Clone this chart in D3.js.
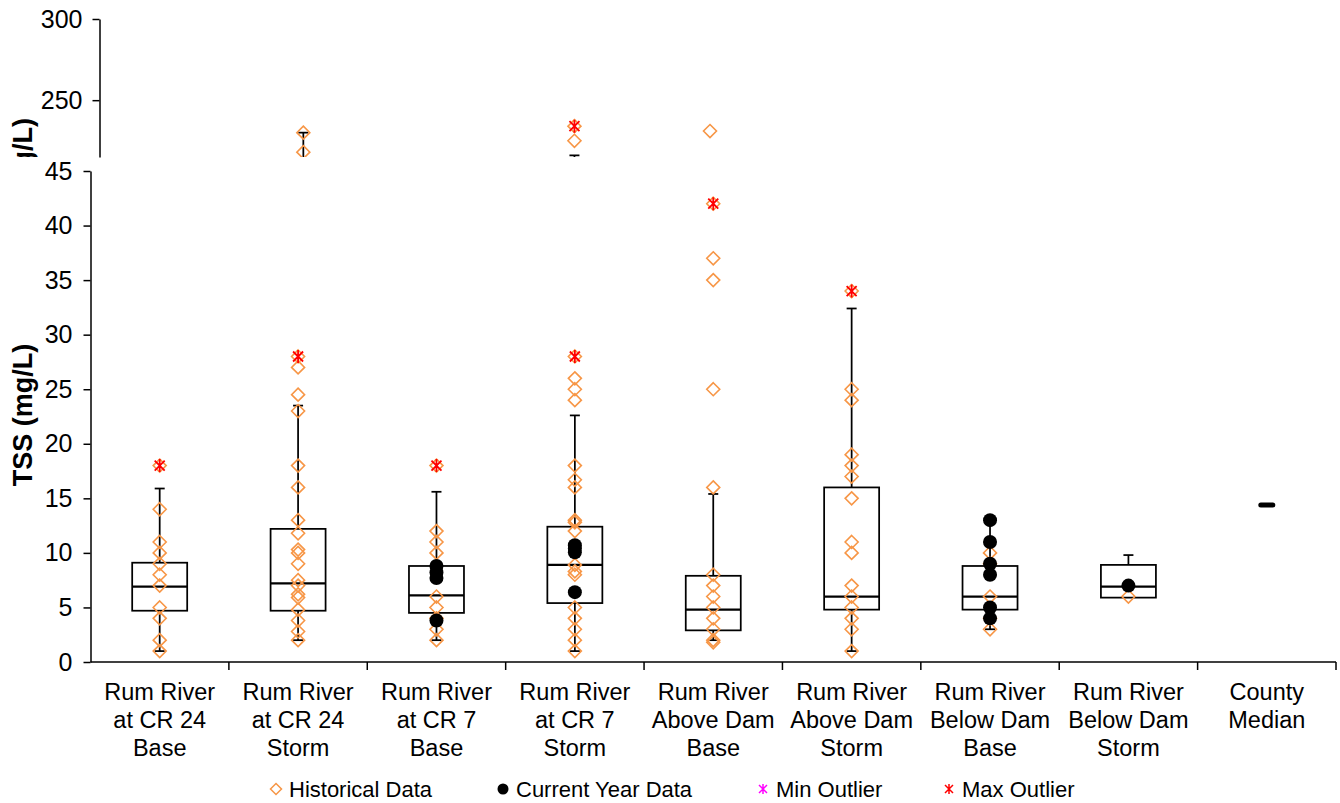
<!DOCTYPE html>
<html>
<head>
<meta charset="utf-8">
<script src="https://cdn.jsdelivr.net/npm/d3@7.9.0/dist/d3.min.js"></script>
<style>
  body { margin: 0; background: #fff; }
  svg text { font-family: "Liberation Sans", Arial, sans-serif; fill: #000; }
</style>
</head>
<body>
<svg id="chart" width="1340" height="803"></svg>
<script>
// categories and label lines
const categories = ["CR24 Base", "CR24 Storm", "CR7 Base", "CR7 Storm", "Above Dam Base",
                    "Above Dam Storm", "Below Dam Base", "Below Dam Storm", "County Median"];
const labelLines = [
  ["Rum River", "at CR 24", "Base"], ["Rum River", "at CR 24", "Storm"],
  ["Rum River", "at CR 7", "Base"], ["Rum River", "at CR 7", "Storm"],
  ["Rum River", "Above Dam", "Base"], ["Rum River", "Above Dam", "Storm"],
  ["Rum River", "Below Dam", "Base"], ["Rum River", "Below Dam", "Storm"],
  ["County", "Median"]
];

// box stats (lower panel, mg/L)
const boxQ1 = [4.7, 4.7, 4.5, 5.4, 2.9, 4.8, 4.8, 5.9, null];
const boxMedian = [6.9, 7.2, 6.1, 8.9, 4.8, 6.0, 6.0, 6.9, null];
const boxQ3 = [9.1, 12.2, 8.8, 12.4, 7.9, 16.0, 8.8, 8.9, null];
const whiskerLow = [1, 2, 2, 1, 2, 1, 3, 6, null];
const whiskerHigh = [15.9, 23.5, 15.6, 22.6, 15.4, 32.4, 13, 9.8, null];

const historical = [
  [18, 14, 11, 10, 9, 8, 7, 5, 4, 2, 1],
  [28, 27, 24.5, 23, 18, 16, 13, 11.8, 10.3, 10, 9, 7.5, 7, 6.2, 5.9, 4.8, 3.8, 2.8, 2],
  [18, 12, 11, 10, 6, 5, 4, 3, 2],
  [28, 26, 25, 24, 18, 16.7, 16, 13, 12.8, 12, 8.9, 8.3, 8, 5, 4, 3, 2, 1],
  [42, 37, 35, 25, 16, 8, 7, 6, 5, 4, 3, 2, 1.8],
  [34, 25, 24, 19, 18, 17, 15, 11, 10, 7, 6, 5, 4, 3, 1],
  [10, 9, 6, 4, 3],
  [6],
  []
];
const current = [[], [], [8.8, 8.2, 7.7, 3.8], [10.7, 10.4, 10.05, 6.4], [], [],
                 [13, 11, 9, 8, 5, 4], [7], []];
const maxOutliers = [18, 28, 18, 28, 42, 34, null, null, null];
const countyMedian = 14.4;

// upper (broken) panel
const upperHistorical = [[], [230, 218], [], [234, 225], [231], [], [], [], []];
const upperMaxOutliers = [null, null, null, 234, null, null, null, null, null];
const upperWhiskerHigh = [null, 230, null, 216, null, null, null, null, null];

const lowerTicks = [0, 5, 10, 15, 20, 25, 30, 35, 40, 45];
const upperTicks = [250, 300];

const legendItems = [
  { label: "Historical Data", type: "diamond", x: 276 },
  { label: "Current Year Data", type: "circle", x: 503 },
  { label: "Min Outlier", type: "asterisk", color: "#ff00ff", x: 763 },
  { label: "Max Outlier", type: "asterisk", color: "#ff0000", x: 949 }
];

const orange = "#f79646";
const svg = d3.select("#chart");

const x = d3.scaleBand().domain(categories).range([90.5, 1336]);
const y = d3.scaleLinear().domain([0, 45]).range([662, 171]);
const xu = d3.scaleBand().domain(categories).range([100, 1320]);
const yu = d3.scaleLinear().domain([215, 300]).range([157, 19]);

const diamondPath = "M0,-6.5L6.5,0L0,6.5L-6.5,0Z";
const asteriskPath = "M-5,-5L5,5M-5,5L5,-5M0,-6.5L0,6.5";

svg.append("defs").append("clipPath").attr("id", "upclip")
  .append("rect").attr("x", 0).attr("y", 0).attr("width", 1340).attr("height", 157);

// ---------- lower panel ----------
const lower = svg.append("g");

const yAxis = lower.append("g")
  .attr("transform", "translate(90.5,0)")
  .call(d3.axisLeft(y).tickValues(lowerTicks).tickSize(7).tickSizeOuter(0).tickPadding(11));
yAxis.selectAll("text").style("font-size", "25px");
yAxis.selectAll("path, line").attr("stroke", "#000").attr("stroke-width", 1.5);

// x axis line and dividers
lower.append("line")
  .attr("x1", 90.5).attr("x2", x.range()[1])
  .attr("y1", y(0)).attr("y2", y(0))
  .attr("stroke", "#000").attr("stroke-width", 1.5);
const bounds = categories.map(c => x(c)).concat([x.range()[1]]).slice(1);
lower.selectAll(".xtick").data(bounds).enter().append("line")
  .attr("x1", d => d).attr("x2", d => d)
  .attr("y1", y(0)).attr("y2", y(0) + 8)
  .attr("stroke", "#000").attr("stroke-width", 1.5);

// category labels
categories.forEach((c, i) => {
  const t = lower.append("text")
    .attr("text-anchor", "middle")
    .style("font-size", "23.5px");
  labelLines[i].forEach((ln, j) => {
    t.append("tspan").attr("x", x(c) + x.bandwidth() / 2).attr("y", 700 + j * 28).text(ln);
  });
});

// y title
lower.append("text")
  .attr("transform", "translate(32,415) rotate(-90)")
  .attr("text-anchor", "middle")
  .style("font-size", "27px").style("font-weight", "bold")
  .text("TSS (mg/L)");

const boxW = 55, capW = 5;
categories.forEach((c, i) => {
  if (boxQ1[i] == null) return;
  const cx = x(c) + x.bandwidth() / 2;
  const g = lower.append("g").attr("stroke", "#000").attr("stroke-width", 1.75);
  g.append("line").attr("x1", cx).attr("x2", cx).attr("y1", y(boxQ3[i])).attr("y2", y(whiskerHigh[i]));
  g.append("line").attr("x1", cx - capW).attr("x2", cx + capW).attr("y1", y(whiskerHigh[i])).attr("y2", y(whiskerHigh[i]));
  g.append("line").attr("x1", cx).attr("x2", cx).attr("y1", y(boxQ1[i])).attr("y2", y(whiskerLow[i]));
  g.append("line").attr("x1", cx - capW).attr("x2", cx + capW).attr("y1", y(whiskerLow[i])).attr("y2", y(whiskerLow[i]));
  g.append("rect")
    .attr("x", cx - boxW / 2).attr("width", boxW)
    .attr("y", y(boxQ3[i])).attr("height", y(boxQ1[i]) - y(boxQ3[i]))
    .attr("fill", "#fff");
  g.append("line").attr("x1", cx - boxW / 2).attr("x2", cx + boxW / 2)
    .attr("y1", y(boxMedian[i])).attr("y2", y(boxMedian[i])).attr("stroke-width", 2.2);
});

categories.forEach((c, i) => {
  const cx = x(c) + x.bandwidth() / 2;
  lower.selectAll(null).data(historical[i]).enter().append("path")
    .attr("d", diamondPath)
    .attr("transform", d => `translate(${cx},${y(d)})`)
    .attr("fill", "none").attr("stroke", orange).attr("stroke-width", 1.6);
  lower.selectAll(null).data(current[i]).enter().append("circle")
    .attr("cx", cx).attr("cy", d => y(d)).attr("r", 7).attr("fill", "#000");
  if (maxOutliers[i] != null) {
    lower.append("path").attr("d", asteriskPath)
      .attr("transform", `translate(${cx},${y(maxOutliers[i])})`)
      .attr("fill", "none").attr("stroke", "#ff0000").attr("stroke-width", 1.8);
  }
});

// county median dash
const cm = categories[8];
lower.append("line")
  .attr("x1", x(cm) + x.bandwidth() / 2 - 6).attr("x2", x(cm) + x.bandwidth() / 2 + 6)
  .attr("y1", y(countyMedian)).attr("y2", y(countyMedian))
  .attr("stroke", "#000").attr("stroke-width", 5).attr("stroke-linecap", "round");

// ---------- upper panel ----------
const upper = svg.append("g");
const yAxisU = upper.append("g")
  .attr("transform", "translate(99.5,0)")
  .call(d3.axisLeft(yu).tickValues(upperTicks).tickSize(7).tickSizeOuter(0).tickPadding(10));
yAxisU.selectAll("text").style("font-size", "25px");
yAxisU.selectAll("path, line").attr("stroke", "#000").attr("stroke-width", 1.5);

// upper chart's own title, mostly hidden below the break
upper.append("g").attr("clip-path", "url(#upclip)")
  .append("text")
  .attr("transform", "translate(32,118) rotate(-90)")
  .attr("text-anchor", "end")
  .style("font-size", "27px").style("font-weight", "bold")
  .text("TSS (mg/L)");

const upPlot = upper.append("g").attr("clip-path", "url(#upclip)");
categories.forEach((c, i) => {
  const cx = xu(c) + xu.bandwidth() / 2;
  if (upperWhiskerHigh[i] != null) {
    upPlot.append("line").attr("x1", cx).attr("x2", cx)
      .attr("y1", yu(upperWhiskerHigh[i])).attr("y2", 160)
      .attr("stroke", "#000").attr("stroke-width", 1.75);
    upPlot.append("line").attr("x1", cx - capW).attr("x2", cx + capW)
      .attr("y1", yu(upperWhiskerHigh[i])).attr("y2", yu(upperWhiskerHigh[i]))
      .attr("stroke", "#000").attr("stroke-width", 1.75);
  }
  upPlot.selectAll(null).data(upperHistorical[i]).enter().append("path")
    .attr("d", diamondPath)
    .attr("transform", d => `translate(${cx},${yu(d)})`)
    .attr("fill", "none").attr("stroke", orange).attr("stroke-width", 1.6);
  if (upperMaxOutliers[i] != null) {
    upPlot.append("path").attr("d", asteriskPath)
      .attr("transform", `translate(${cx},${yu(upperMaxOutliers[i])})`)
      .attr("fill", "none").attr("stroke", "#ff0000").attr("stroke-width", 1.8);
  }
});

// ---------- legend ----------
const legend = svg.append("g").attr("transform", "translate(0,789)");
legendItems.forEach(it => {
  const g = legend.append("g").attr("transform", `translate(${it.x},0)`);
  if (it.type === "diamond") {
    g.append("path").attr("d", "M0,-5.5L5.5,0L0,5.5L-5.5,0Z")
      .attr("fill", "none").attr("stroke", orange).attr("stroke-width", 1.5);
  } else if (it.type === "circle") {
    g.append("circle").attr("r", 5.5).attr("fill", "#000");
  } else {
    g.append("path").attr("d", "M-4,-4L4,4M-4,4L4,-4M0,-5L0,5")
      .attr("fill", "none").attr("stroke", it.color).attr("stroke-width", 1.5);
  }
  g.append("text").attr("x", 13).attr("y", 8)
    .style("font-size", "22px").text(it.label);
});
</script>
</body>
</html>
